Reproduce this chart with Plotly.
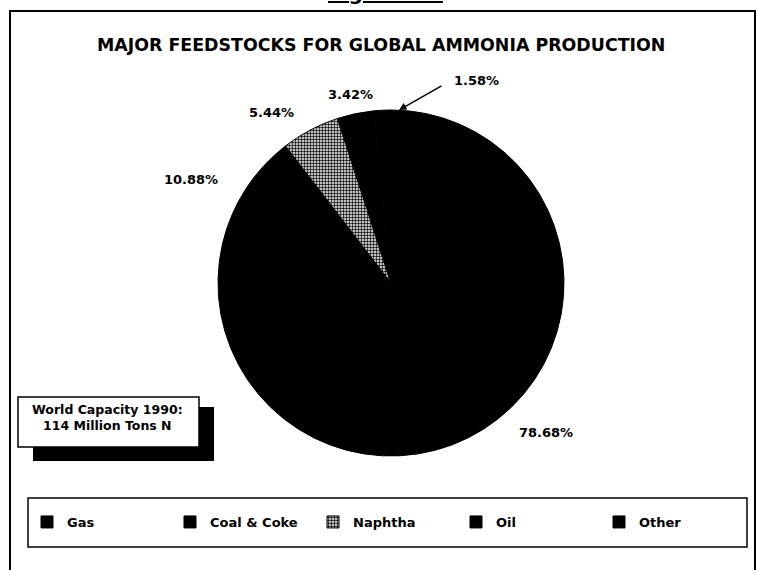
import plotly.graph_objects as go

W, H = 757, 570

categories = ["Gas", "Coal & Coke", "Naphtha", "Oil", "Other"]
shares = [78.68, 10.88, 5.44, 3.42, 1.58]
title_text = "MAJOR FEEDSTOCKS FOR GLOBAL AMMONIA PRODUCTION"
note_lines = ["World Capacity 1990:", "114 Million Tons N"]

FONT = "DejaVu Sans"

def px(x):
    return x / W

def py(y):
    return 1 - y / H

# pie placement (pixels)
cx, cy, r = 391, 283, 173

fig = go.Figure()
fig.add_trace(go.Pie(
    labels=categories,
    values=shares,
    sort=False,
    direction="clockwise",
    rotation=0,
    textinfo="none",
    hoverinfo="label+percent",
    marker=dict(
        colors=["#000000", "#000000", "#ffffff", "#000000", "#000000"],
        line=dict(color="#000000", width=1),
        pattern=dict(
            shape=["", "", ".", "", ""],
            fgcolor="#000000",
            bgcolor="#ffffff",
            size=3,
            solidity=0.5,
        ),
    ),
    domain=dict(x=[px(cx - r), px(cx + r)], y=[py(cy + r), py(cy - r)]),
    showlegend=True,
))

# percentage label positions (pixels)
label_pos = [(546, 432), (191, 179), (271, 113), (350, 94), (476, 80)]
annotations = []
for v, (x, y) in zip(shares, label_pos):
    annotations.append(dict(
        x=px(x), y=py(y), xref="paper", yref="paper",
        text=f"{v:.2f}%", showarrow=False,
        font=dict(family=FONT, size=13, color="#000000", weight="bold"),
        xanchor="center", yanchor="middle",
    ))
# arrow for the small slice
annotations.append(dict(
    x=px(399), y=py(110), xref="paper", yref="paper",
    ax=44, ay=-25, axref="pixel", ayref="pixel",
    text="", showarrow=True, arrowhead=2, arrowsize=1, arrowwidth=1.5,
    arrowcolor="#000000",
))
# title
annotations.append(dict(
    x=px(381), y=py(45), xref="paper", yref="paper",
    text=title_text, showarrow=False,
    font=dict(family=FONT, size=17.4, color="#000000", weight="bold"),
    xanchor="center", yanchor="middle",
))
# note box text
annotations.append(dict(
    x=px(107), y=py(417), xref="paper", yref="paper",
    text="<br>".join(note_lines), showarrow=False,
    font=dict(family=FONT, size=12.5, color="#000000", weight="bold"),
    xanchor="center", yanchor="middle", align="center",
))
# figure caption cut off at the top
annotations.append(dict(
    x=px(386), y=py(7), xref="paper", yref="paper",
    text="<u>Figure 2.5</u>", showarrow=False,
    font=dict(family=FONT, size=20, color="#000000", weight="bold"),
    xanchor="center", yanchor="bottom",
))

shapes = [
    # outer frame
    dict(type="rect", xref="paper", yref="paper",
         x0=px(10), x1=px(755), y0=py(585), y1=py(11),
         line=dict(color="#000000", width=2), fillcolor="rgba(0,0,0,0)", layer="below"),
    # note box shadow
    dict(type="rect", xref="paper", yref="paper",
         x0=px(33), x1=px(214), y0=py(461), y1=py(407),
         line=dict(width=0), fillcolor="#000000"),
    # note box
    dict(type="rect", xref="paper", yref="paper",
         x0=px(18), x1=px(199), y0=py(447), y1=py(397),
         line=dict(color="#000000", width=1.5), fillcolor="#ffffff"),
    # legend box
    dict(type="rect", xref="paper", yref="paper",
         x0=px(28), x1=px(747), y0=py(547), y1=py(498),
         line=dict(color="#000000", width=1.5), fillcolor="rgba(0,0,0,0)"),
]

fig.update_layout(
    width=W, height=H,
    margin=dict(l=0, r=0, t=0, b=0),
    paper_bgcolor="#ffffff",
    plot_bgcolor="#ffffff",
    showlegend=True,
    legend=dict(
        orientation="h",
        x=px(27), y=py(522), xanchor="left", yanchor="middle",
        xref="paper", yref="paper",
        entrywidth=98, entrywidthmode="pixels",
        bgcolor="rgba(0,0,0,0)", borderwidth=0,
        font=dict(family=FONT, size=13, color="#000000", weight="bold"),
        traceorder="normal",
    ),
    annotations=annotations,
    shapes=shapes,
)

fig.write_html("out.html")
